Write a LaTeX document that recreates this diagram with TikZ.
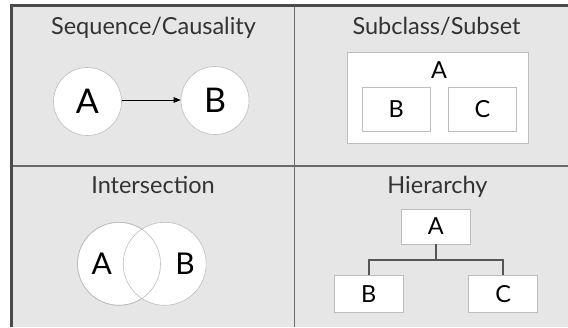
\documentclass[tikz,border=0pt]{standalone}
\usepackage{fontspec}
\setmainfont{Lato}
\usetikzlibrary{arrows.meta}
\definecolor{panelgrey}{HTML}{E6E6E6}
\definecolor{framegrey}{HTML}{4A4A4A}
\definecolor{divgrey}{HTML}{6A6A6A}
\definecolor{edgegrey}{HTML}{BDBDBD}
\definecolor{titlecol}{HTML}{333333}
\definecolor{linkgrey}{HTML}{555555}
\tikzset{
  titletext/.style={anchor=base, text=titlecol, inner sep=0pt, font=\fontsize{23.5}{27}\selectfont},
  bigcirc/.style={circle, draw=edgegrey, line width=0.6pt, fill=white, inner sep=0pt, text=black},
  wbox/.style={rectangle, draw=edgegrey, line width=0.8pt, fill=white, inner sep=0pt, text=black, font=\fontsize{23.5}{27}\selectfont},
  boxlabel/.style={inner sep=0pt, text=black, font=\fontsize{23.5}{27}\selectfont},
  link/.style={draw=linkgrey, line width=1.6pt},
}
\begin{document}
\begin{tikzpicture}[x=1pt, y=-1pt]
\useasboundingbox (0,0) rectangle (568,327);
% background panel
\fill[panelgrey] (11.5,5.5) rectangle (568,327);
\draw[divgrey, line width=1.4pt] (294.5,5.5) -- (294.5,327);
\draw[divgrey, line width=1.4pt] (11.5,166) -- (568,166);
\draw[framegrey, line width=2.6pt] (11.5,327) -- (11.5,5.5) -- (568,5.5);

% Panel 1: Sequence/Causality
\node[titletext] (t1) at (153.5,34) {Sequence/Causality};
\node[bigcirc, minimum size=68pt, font=\fontsize{34}{38}\selectfont] (sa) at (87.5,101.5) {A};
\node[bigcirc, minimum size=68pt, font=\fontsize{34}{38}\selectfont] (sb) at (215,100.5) {B};
\draw[black, line width=0.6pt, -{Triangle[length=7pt, width=5.5pt]}] (sa.east |- 0,100) -- (sb.west |- 0,100);

% Panel 2: Subclass/Subset
\node[titletext] (t2) at (436.5,34) {Subclass/Subset};
\node[wbox, minimum width=180.6pt, minimum height=91pt] (ssA) at (438,97.8) {};
\node[boxlabel] (ssAl) at (439,70) {A};
\node[wbox, minimum width=67.3pt, minimum height=44.4pt] (ssB) at (396.3,109.5) {B};
\node[wbox, minimum width=68.4pt, minimum height=44.4pt] (ssC) at (482.5,109.5) {C};

% Panel 3: Intersection
\node[titletext] (t3) at (153,193.3) {Intersection};
\node[bigcirc, minimum size=83pt] (ia) at (119,263.8) {};
\node[bigcirc, minimum size=83pt] (ib) at (164.7,263.8) {};
\draw[edgegrey, line width=0.6pt] (ia) circle[radius=41.5pt];
\node[inner sep=0pt, text=black, font=\fontsize{30}{34}\selectfont] (ial) at (101.7,263.5) {A};
\node[inner sep=0pt, text=black, font=\fontsize{30}{34}\selectfont] (ibl) at (185,263.5) {B};

% Panel 4: Hierarchy
\node[titletext] (t4) at (437.5,193.3) {Hierarchy};
\node[wbox, minimum width=68.3pt, minimum height=35pt] (hA) at (435.8,226.5) {A};
\node[wbox, minimum width=69pt, minimum height=36.6pt] (hB) at (368.8,294) {B};
\node[wbox, minimum width=69pt, minimum height=36.6pt] (hC) at (503.2,294) {C};
\coordinate (hj) at (435.8,260);
\draw[link] (hA.south) -- (hj);
\draw[link] (hj) -| (hB.north);
\draw[link] (hj) -| (hC.north);
\end{tikzpicture}
\end{document}
